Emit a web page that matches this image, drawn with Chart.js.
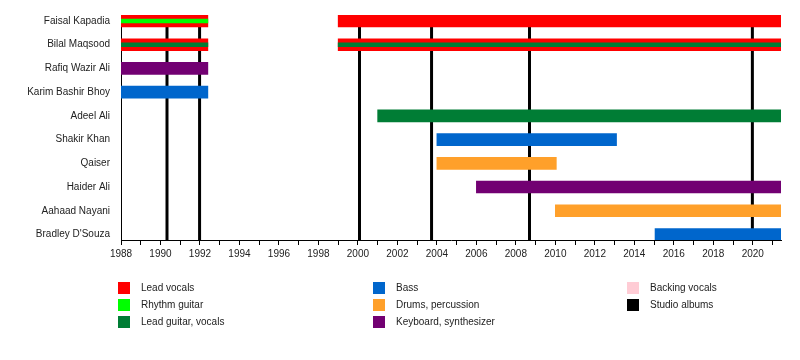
<!DOCTYPE html>
<html>
<head>
<meta charset="utf-8">
<script src="https://cdn.jsdelivr.net/npm/chart.js@4/dist/chart.umd.min.js"></script>
<style>
  body { margin: 0; background: #fff; }
  #wrap { position: relative; width: 800px; height: 360px; }
  #legend { position: absolute; left: 0; top: 0; width: 800px; height: 360px; pointer-events: none;
            font: 10px "Liberation Sans", Arial, sans-serif; color: #222; }
  .item { position: absolute; height: 12px; line-height: 12px; white-space: nowrap; }
  .sw { position: absolute; left: 0; top: 0; width: 12px; height: 12px; }
  .lbl { position: absolute; left: 23px; top: 0; }
</style>
</head>
<body>
<div id="wrap">
  <canvas id="timeline" width="800" height="360"></canvas>
  <div id="legend"></div>
</div>
<script>
// Band members, top to bottom
const members = ['Faisal Kapadia', 'Bilal Maqsood', 'Rafiq Wazir Ali', 'Karim Bashir Bhoy', 'Adeel Ali',
                 'Shakir Khan', 'Qaiser', 'Haider Ali', 'Aahaad Nayani', "Bradley D'Souza"];
const START = 1988;
const END = 2021.43;

// [member, from, to]
const leadVocals = [['Faisal Kapadia', 1988, 1992.4], ['Faisal Kapadia', 1999, END],
                    ['Bilal Maqsood', 1988, 1992.4], ['Bilal Maqsood', 1999, END]];
const leadGuitar = [['Adeel Ali', 2001, END]];
const bass = [['Karim Bashir Bhoy', 1988, 1992.4], ['Shakir Khan', 2004, 2013.1], ["Bradley D'Souza", 2015.05, END]];
const drums = [['Qaiser', 2004, 2010.05], ['Aahaad Nayani', 2010, END]];
const keyboards = [['Rafiq Wazir Ali', 1988, 1992.4], ['Haider Ali', 2006, END]];

// secondary roles, drawn as a thin stripe
const rhythmGuitarStripe = [['Faisal Kapadia', 1988, 1992.4]];
const leadGuitarStripe = [['Bilal Maqsood', 1988, 1992.4], ['Bilal Maqsood', 1999, END]];

const studioAlbums = [1990.33, 1991.98, 2000.08, 2003.73, 2008.69, 2019.98];

const legendLabels = ['Lead vocals', 'Rhythm guitar', 'Lead guitar, vocals', 'Bass', 'Drums, percussion',
                      'Keyboard, synthesizer', 'Backing vocals', 'Studio albums'];
const legendColors = ['#ff0000', '#00ff00', '#007d35', '#0066cc', '#ffa02a', '#720072', '#ffccd5', '#000000'];

const toPoints = spans => spans.map(s => ({ x: [s[1], s[2]], y: members.indexOf(s[0]) }));

function bars(spans, color, stripe) {
    return {
        data: toPoints(spans),
        backgroundColor: color,
        borderWidth: 0,
        barThickness: stripe ? 4 : 12,
        grouped: false,
        order: stripe ? 0 : 1
    };
}

// album lines go under the bars
const albumLines = {
    id: 'albumLines',
    beforeDatasetsDraw(chart) {
        const { ctx, chartArea, scales } = chart;
        ctx.save();
        ctx.strokeStyle = '#000';
        ctx.lineWidth = 3;
        studioAlbums.forEach(yr => {
            const x = scales.x.getPixelForValue(yr);
            ctx.beginPath();
            ctx.moveTo(x, chartArea.top);
            ctx.lineTo(x, chartArea.bottom);
            ctx.stroke();
        });
        ctx.restore();
    }
};

const font = { family: '"Liberation Sans", Arial, sans-serif', size: 10 };

new Chart(document.getElementById('timeline'), {
    type: 'bar',
    data: {
        datasets: [
            bars(leadVocals, legendColors[0]),
            bars(leadGuitar, legendColors[2]),
            bars(bass, legendColors[3]),
            bars(drums, legendColors[4]),
            bars(keyboards, legendColors[5]),
            bars(rhythmGuitarStripe, legendColors[1], true),
            bars(leadGuitarStripe, legendColors[2], true)
        ]
    },
    options: {
        indexAxis: 'y',
        responsive: false,
        animation: false,
        layout: { padding: { top: 15, right: 19, bottom: 95, left: 0 } },
        plugins: { legend: { display: false }, tooltip: { enabled: false } },
        scales: {
            x: {
                type: 'linear',
                min: START,
                max: END,
                grid: { drawOnChartArea: false, drawTicks: true, tickLength: 5, color: '#000' },
                border: { display: true, color: '#000', width: 1 },
                ticks: {
                    stepSize: 1,
                    includeBounds: false,
                    autoSkip: false,
                    maxRotation: 0,
                    padding: 3,
                    color: '#222',
                    font: font,
                    callback: v => (v % 2 === 0 ? String(v) : '')
                },
                afterFit: s => { s.height = 25; s.paddingLeft = 0; s.paddingRight = 0; }
            },
            y: {
                type: 'linear',
                reverse: true,
                offset: false,
                min: -0.253,
                max: 9.233,
                grid: { display: false, drawTicks: false },
                border: { display: true, color: '#000', width: 1 },
                afterBuildTicks: s => { s.ticks = members.map((_, i) => ({ value: i })); },
                ticks: {
                    padding: 11,
                    color: '#222',
                    font: font,
                    callback: v => members[v]
                },
                afterFit: s => { s.width = 121; s.paddingTop = 0; s.paddingBottom = 0; }
            }
        }
    },
    plugins: [albumLines]
});

// legend, 3 rows per column
const legendCols = [118, 373, 627];
const legendRows = [282, 299, 316];
const legendEl = document.getElementById('legend');
legendLabels.forEach((label, i) => {
    const item = document.createElement('div');
    item.className = 'item';
    item.style.left = legendCols[Math.floor(i / 3)] + 'px';
    item.style.top = legendRows[i % 3] + 'px';
    item.innerHTML = '<span class="sw" style="background:' + legendColors[i] + '"></span><span class="lbl">' + label + '</span>';
    legendEl.appendChild(item);
});
</script>
</body>
</html>
